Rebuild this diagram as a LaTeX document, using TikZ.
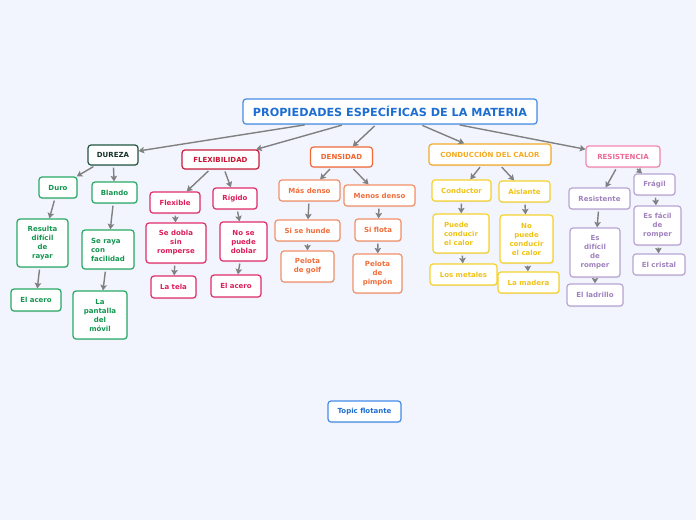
\documentclass[tikz,border=0pt]{standalone}
\usepackage{fontspec}
\setmainfont{DejaVu Sans}
\usepackage{tikz}
\usetikzlibrary{positioning,shadows,arrows.meta}
\usepackage{xcolor}
\definecolor{bggray}{RGB}{242,245,254}
\definecolor{linegray}{RGB}{128,128,128}
\definecolor{titleblue}{RGB}{30,110,210}
\definecolor{titleline}{RGB}{70,140,230}
\definecolor{durezaline}{RGB}{35,85,65}
\definecolor{durezatext}{RGB}{20,50,40}
\definecolor{greenline}{RGB}{40,170,100}
\definecolor{greentext}{RGB}{20,150,80}
\definecolor{flexline}{RGB}{200,30,60}
\definecolor{flextext}{RGB}{200,20,50}
\definecolor{redline}{RGB}{225,45,105}
\definecolor{redtext}{RGB}{220,30,90}
\definecolor{densline}{RGB}{240,105,55}
\definecolor{denstext}{RGB}{240,100,45}
\definecolor{orangeline}{RGB}{242,145,105}
\definecolor{orangetext}{RGB}{240,110,60}
\definecolor{condline}{RGB}{245,170,40}
\definecolor{condtext}{RGB}{245,170,30}
\definecolor{yellowline}{RGB}{245,210,45}
\definecolor{yellowtext}{RGB}{240,195,20}
\definecolor{resisline}{RGB}{242,135,175}
\definecolor{resistext}{RGB}{235,105,150}
\definecolor{purpleline}{RGB}{185,165,212}
\definecolor{purpletext}{RGB}{160,130,190}

\begin{document}
\begin{tikzpicture}[
    x=1pt, y=-1pt,
    topicbox/.style={rectangle, rounded corners=3pt, fill=white, line width=1.2pt,
                     align=center, inner sep=1pt,
                     drop shadow={shadow xshift=0.5pt, shadow yshift=-1pt, opacity=0.18},
                     font=\fontsize{7}{9}\selectfont\bfseries},
    mainbox/.style={topicbox, draw=titleline, text=titleblue,
                    font=\fontsize{11.2}{13}\selectfont\bfseries},
    durezabox/.style={topicbox, draw=durezaline, text=durezatext},
    greenbox/.style={topicbox, draw=greenline, text=greentext},
    flexbox/.style={topicbox, draw=flexline, text=flextext},
    redbox/.style={topicbox, draw=redline, text=redtext},
    densbox/.style={topicbox, draw=densline, text=denstext},
    orangebox/.style={topicbox, draw=orangeline, text=orangetext},
    condbox/.style={topicbox, draw=condline, text=condtext},
    yellowbox/.style={topicbox, draw=yellowline, text=yellowtext},
    resisbox/.style={topicbox, draw=resisline, text=resistext},
    purplebox/.style={topicbox, draw=purpleline, text=purpletext},
    floatbox/.style={topicbox, draw=titleline, text=titleblue},
    arrow/.style={-{Stealth[length=5.5pt,width=6.5pt,inset=1pt]}, line width=1.4pt,
                  draw=linegray, shorten <=2pt}
]

% Background
\fill[bggray] (0,0) rectangle (696,520);
\useasboundingbox (0,0) rectangle (696,520);

% Title
\node[mainbox, minimum width=294pt, minimum height=25pt] (title) at (390,111.5) {PROPIEDADES ESPECÍFICAS DE LA MATERIA};

% Properties
\node[durezabox, minimum width=50pt, minimum height=20pt] (dureza) at (113,155) {DUREZA};
\node[flexbox, minimum width=77pt, minimum height=19pt] (flex) at (220.5,159.5) {FLEXIBILIDAD};
\node[densbox, minimum width=62pt, minimum height=20pt] (dens) at (341.5,157) {DENSIDAD};
\node[condbox, minimum width=122pt, minimum height=21pt] (cond) at (490,154.5) {CONDUCCIÓN DEL CALOR};
\node[resisbox, minimum width=74pt, minimum height=21pt] (resis) at (623,156.5) {RESISTENCIA};

% Dureza
\node[greenbox, minimum width=38pt, minimum height=21pt] (duro) at (58,187.5) {Duro};
\node[greenbox, minimum width=45pt, minimum height=21pt] (blando) at (114.5,192.5) {Blando};
\node[greenbox, minimum width=51pt, minimum height=48pt] (rayar) at (42.5,243) {Resulta\\difícil\\de\\rayar};
\node[greenbox, minimum width=52pt, minimum height=39pt, align=left] (seraya) at (108,249.5) {Se raya\\con\\facilidad};
\node[greenbox, minimum width=50pt, minimum height=22pt] (acerog) at (36,300) {El acero};
\node[greenbox, minimum width=54pt, minimum height=48pt] (pantalla) at (100,315) {La\\pantalla\\del\\móvil};

% Flexibilidad
\node[redbox, minimum width=50pt, minimum height=21pt] (flexible) at (175,202.5) {Flexible};
\node[redbox, minimum width=44pt, minimum height=21pt] (rigido) at (235,198.5) {Rígido};
\node[redbox, minimum width=60pt, minimum height=40pt] (sedobla) at (176,243) {Se dobla\\sin\\romperse};
\node[redbox, minimum width=47pt, minimum height=39pt] (nodobla) at (243.5,241.5) {No se\\puede\\doblar};
\node[redbox, minimum width=45pt, minimum height=22pt] (tela) at (173.5,287) {La tela};
\node[redbox, minimum width=50pt, minimum height=22pt] (aceror) at (236,286) {El acero};

% Densidad
\node[orangebox, minimum width=61pt, minimum height=21pt] (masdenso) at (309.5,190.5) {Más denso};
\node[orangebox, minimum width=71pt, minimum height=21pt] (menosdenso) at (379.5,195.5) {Menos denso};
\node[orangebox, minimum width=65pt, minimum height=21pt] (hunde) at (307.5,230.5) {Si se hunde};
\node[orangebox, minimum width=46pt, minimum height=22pt] (flota) at (378,230) {Si flota};
\node[orangebox, minimum width=53pt, minimum height=31pt] (golf) at (307.5,266.5) {Pelota\\de golf};
\node[orangebox, minimum width=49pt, minimum height=39pt] (pimpon) at (377.5,273.5) {Pelota\\de\\pimpón};

% Conduccion del calor
\node[yellowbox, minimum width=59pt, minimum height=21pt] (conductor) at (461.5,190.5) {Conductor};
\node[yellowbox, minimum width=51pt, minimum height=21pt] (aislante) at (524.5,191.5) {Aislante};
\node[yellowbox, minimum width=56pt, minimum height=39pt, align=left] (puede) at (461,233.5) {Puede\\conducir\\el calor};
\node[yellowbox, minimum width=53pt, minimum height=48pt] (nopuede) at (526.5,239) {No\\puede\\conducir\\el calor};
\node[yellowbox, minimum width=67pt, minimum height=21pt] (metales) at (463.5,274.5) {Los metales};
\node[yellowbox, minimum width=61pt, minimum height=21pt] (madera) at (528.5,282.5) {La madera};

% Resistencia
\node[purplebox, minimum width=61pt, minimum height=21pt] (resistente) at (599.5,198.5) {Resistente};
\node[purplebox, minimum width=41pt, minimum height=21pt] (fragil) at (654.5,184.5) {Frágil};
\node[purplebox, minimum width=50pt, minimum height=49pt] (dificil) at (595,252.5) {Es\\difícil\\de\\romper};
\node[purplebox, minimum width=47pt, minimum height=39pt] (facil) at (657.5,225.5) {Es fácil\\de\\romper};
\node[purplebox, minimum width=56pt, minimum height=22pt] (ladrillo) at (595,295) {El ladrillo};
\node[purplebox, minimum width=52pt, minimum height=21pt] (cristal) at (659,264.5) {El cristal};

% Floating topic
\node[floatbox, minimum width=73pt, minimum height=21pt] (flotante) at (364.5,411.5) {Topic flotante};

% Arrows
\draw[arrow] (title) -- (dureza);
\draw[arrow] (title) -- (flex);
\draw[arrow] (title) -- (dens);
\draw[arrow] (title) -- (cond);
\draw[arrow] (title) -- (resis);

\draw[arrow] (dureza) -- (duro);
\draw[arrow] (dureza) -- (blando);
\draw[arrow] (duro) -- (rayar);
\draw[arrow] (blando) -- (seraya);
\draw[arrow] (rayar) -- (acerog);
\draw[arrow] (seraya) -- (pantalla);

\draw[arrow] (flex) -- (flexible);
\draw[arrow] (flex) -- (rigido);
\draw[arrow] (flexible) -- (sedobla);
\draw[arrow] (rigido) -- (nodobla);
\draw[arrow] (sedobla) -- (tela);
\draw[arrow] (nodobla) -- (aceror);

\draw[arrow] (dens) -- (masdenso);
\draw[arrow] (dens) -- (menosdenso);
\draw[arrow] (masdenso) -- (hunde);
\draw[arrow] (menosdenso) -- (flota);
\draw[arrow] (hunde) -- (golf);
\draw[arrow] (flota) -- (pimpon);

\draw[arrow] (cond) -- (conductor);
\draw[arrow] (cond) -- (aislante);
\draw[arrow] (conductor) -- (puede);
\draw[arrow] (aislante) -- (nopuede);
\draw[arrow] (puede) -- (metales);
\draw[arrow] (nopuede) -- (madera);

\draw[arrow] (resis) -- (resistente);
\draw[arrow] (resis) -- (fragil);
\draw[arrow] (resistente) -- (dificil);
\draw[arrow] (fragil) -- (facil);
\draw[arrow] (dificil) -- (ladrillo);
\draw[arrow] (facil) -- (cristal);

\end{tikzpicture}
\end{document}
